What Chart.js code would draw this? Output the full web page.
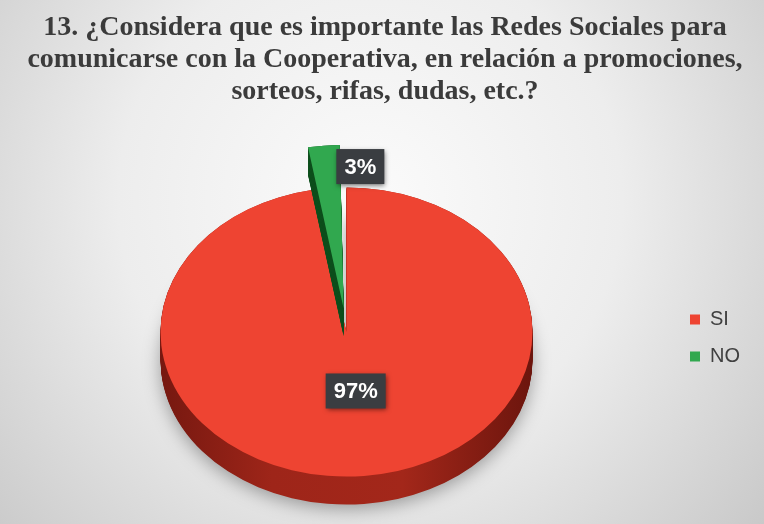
<!DOCTYPE html>
<html>
<head>
<meta charset="utf-8">
<script src="https://cdn.jsdelivr.net/npm/chart.js@4.4.1/dist/chart.umd.min.js"></script>
<style>
  html, body { margin: 0; padding: 0; background: #e6e6e6; }
  canvas { display: block; }
</style>
</head>
<body>
<canvas id="chart" width="764" height="524"></canvas>
<script>
const titleLines = [
  '13. ¿Considera que es importante las Redes Sociales para',
  'comunicarse con la Cooperativa, en relación a promociones,',
  'sorteos, rifas, dudas, etc.?'
];
const answers = ['SI', 'NO'];
const shares = [97, 3];

const faceColors = ['#ee4432', '#31a84f'];
const rimColors = ['#a3261a', '#0e4f1d'];

// look of the tilted disc
const TILT = 0.777;   // vertical squash of the top face
const RIM = 28;       // rim thickness in screen px
const LIFT = 6;       // top face sits a little above the chart area centre

// same translation ArcElement.draw applies for an exploded slice
function arcShift(arc) {
  const off = (arc.options.offset || 0) / 4;
  const fix = 1 - Math.sin(Math.min(Math.PI, arc.circumference || 0));
  const half = (arc.startAngle + arc.endAngle) / 2;
  return { x: Math.cos(half) * off * (1 + fix), y: Math.sin(half) * off * (1 + fix) };
}

function faceY(cy, y) {
  return cy - LIFT + (y - cy) * TILT;
}

const backdrop = {
  id: 'backdrop',
  beforeDraw(chart) {
    const { ctx, width, height } = chart;
    const g = ctx.createRadialGradient(370, 200, 0, 370, 200, 560);
    g.addColorStop(0, '#fbfbfb');
    g.addColorStop(0.45, '#ededed');
    g.addColorStop(1, '#c2c2c2');
    ctx.save();
    ctx.fillStyle = g;
    ctx.fillRect(0, 0, width, height);
    ctx.restore();
  }
};

const pie3d = {
  id: 'pie3d',
  beforeDatasetDraw(chart, args) {
    const ctx = chart.ctx;
    const arcs = args.meta.data;
    const cx = arcs[0].x, cy = arcs[0].y;
    ctx.save();
    ctx.translate(0, -LIFT);
    ctx.translate(cx, cy);
    ctx.scale(1, TILT);
    ctx.translate(-cx, -cy);

    arcs.forEach((arc, i) => {
      const r = arc.outerRadius;
      let rimFill = rimColors[i];
      if (i === 0) {
        rimFill = ctx.createLinearGradient(cx - r, 0, cx + r, 0);
        rimFill.addColorStop(0, '#761810');
        rimFill.addColorStop(0.3, '#9e2519');
        rimFill.addColorStop(0.65, '#a3271a');
        rimFill.addColorStop(1, '#6c150d');
      }
      const rim = Object.create(arc);
      rim.options = Object.assign({}, arc.options, { backgroundColor: rimFill });
      const depth = RIM / TILT;
      for (let d = depth; d > 0; d -= 1) {
        ctx.save();
        ctx.translate(0, d);
        if (i === 0 && d === depth) {
          ctx.shadowColor = 'rgba(0,0,0,0.35)';
          ctx.shadowBlur = 18;
          ctx.shadowOffsetY = 4;
        }
        rim.draw(ctx);
        ctx.restore();
      }
      arc.draw(ctx);
    });

    ctx.restore();
    return false;
  },
  afterDatasetsDraw(chart) {
    const ctx = chart.ctx;
    const arcs = chart.getDatasetMeta(0).data;
    ctx.save();
    ctx.font = 'bold 22px "Liberation Sans", Arial, sans-serif';
    ctx.textAlign = 'center';
    ctx.textBaseline = 'middle';
    arcs.forEach((arc, i) => {
      const text = shares[i] + '%';
      const w = Math.round(ctx.measureText(text).width) + 16;
      const h = 35;
      let bx, by;
      if (arc.circumference < 0.5) {
        // thin slice: tag sits beside the outer corner where it ends
        const s = arcShift(arc);
        const px = arc.x + s.x + Math.cos(arc.endAngle) * arc.outerRadius;
        const py = arc.y + s.y + Math.sin(arc.endAngle) * arc.outerRadius;
        bx = px - 5;
        by = faceY(arc.y, py) + 4;
      } else {
        const mid = (arc.startAngle + arc.endAngle) / 2;
        const rr = arc.outerRadius * 0.41;
        const px = arc.x + Math.cos(mid) * rr;
        const py = arc.y + Math.sin(mid) * rr;
        bx = px - w / 2 + 2;
        by = faceY(arc.y, py) - h / 2;
      }
      ctx.save();
      ctx.shadowColor = 'rgba(0,0,0,0.55)';
      ctx.shadowBlur = 5;
      ctx.shadowOffsetX = 1;
      ctx.shadowOffsetY = 2;
      ctx.fillStyle = '#3a3d41';
      ctx.fillRect(bx, by, w, h);
      ctx.restore();
      ctx.fillStyle = '#ffffff';
      ctx.fillText(text, bx + w / 2, by + h / 2 + 1);
    });
    ctx.restore();
  }
};

new Chart(document.getElementById('chart'), {
  type: 'pie',
  data: {
    labels: answers,
    datasets: [{
      data: shares,
      backgroundColor: faceColors,
      borderWidth: 0,
      offset: [0, 121],
      radius: 186,
      clip: false
    }]
  },
  options: {
    responsive: false,
    animation: false,
    events: [],
    layout: { padding: { left: 20, right: 14, top: 0, bottom: 0 } },
    plugins: {
      title: {
        display: true,
        text: titleLines,
        color: '#3b3b3b',
        font: { family: 'Liberation Serif', size: 28, weight: 'bold', lineHeight: '32px' },
        padding: { top: 12, bottom: 44 }
      },
      legend: {
        position: 'right',
        fullSize: false,
        labels: {
          boxWidth: 10,
          boxHeight: 10,
          padding: 17,
          color: '#404040',
          font: { family: 'Liberation Sans', size: 20 }
        }
      },
      tooltip: { enabled: false }
    }
  },
  plugins: [backdrop, pie3d]
});
</script>
</body>
</html>
